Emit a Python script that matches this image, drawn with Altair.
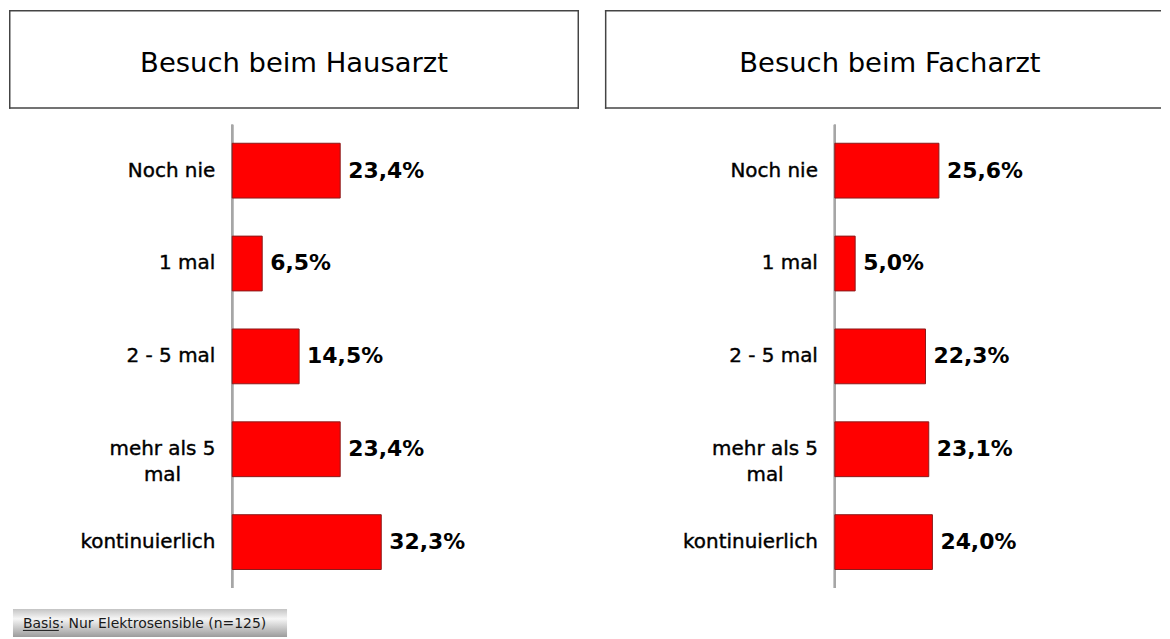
import altair as alt
import pandas as pd

# ---------------- data ----------------
categories = ["Noch nie", "1 mal", "2 - 5 mal", "mehr als 5\nmal", "kontinuierlich"]
hausarzt_values = [23.4, 6.5, 14.5, 23.4, 32.3]
facharzt_values = [25.6, 5.0, 22.3, 23.1, 24.0]
panel_titles = ["Besuch beim Hausarzt", "Besuch beim Facharzt"]
footer_key = "Basis"
footer_text = "Nur Elektrosensible (n=125)"

FONT = "DejaVu Sans"


def fmt(v):
    return f"{v:.1f}".replace(".", ",") + "%"


def title_box(text, width, right_edge=True):
    df = pd.DataFrame({"t": [text]})
    base = alt.Chart(df)
    layers = [
        base.mark_rule(color="#444444", strokeWidth=1.5).encode(
            x=alt.value(0), x2=alt.value(width), y=alt.value(0.75)),
        base.mark_rule(color="#444444", strokeWidth=1.5).encode(
            x=alt.value(0), x2=alt.value(width), y=alt.value(98.25)),
        base.mark_rule(color="#444444", strokeWidth=1.5).encode(
            x=alt.value(0.75), y=alt.value(0), y2=alt.value(99)),
    ]
    if right_edge:
        layers.append(base.mark_rule(color="#444444", strokeWidth=1.5).encode(
            x=alt.value(width - 0.75), y=alt.value(0), y2=alt.value(99)))
    layers.append(base.mark_text(font=FONT, fontSize=27.5, align="center",
                                 baseline="alphabetic", color="#000000").encode(
        x=alt.value(286), y=alt.value(62), text="t:N"))
    return alt.layer(*layers).properties(width=width, height=99)


def bar_panel(values, width, domain):
    df = pd.DataFrame({
        "cat": categories,
        "value": values,
        "label": [fmt(v) for v in values],
        "multi": ["\n" in c for c in categories],
    })
    base = alt.Chart(df)
    y = alt.Y("cat:N", sort=categories, axis=None,
              scale=alt.Scale(paddingInner=0.41, paddingOuter=0.2))
    xs = alt.Scale(domain=domain, nice=False)
    axis_line = base.mark_rule(color="#a6a6a6", strokeWidth=2).encode(
        x=alt.X("z:Q", scale=xs, axis=None)).transform_calculate(z="0")
    bars = base.mark_bar(color="#ff0000", stroke="#8b1a1a", strokeWidth=1).encode(
        x=alt.X("value:Q", scale=xs, axis=None), x2=alt.datum(0), y=y)
    vals = base.mark_text(font=FONT, fontSize=22, fontWeight="bold", align="left",
                          baseline="middle", dx=8, color="#000000").encode(
        x=alt.X("value:Q", scale=xs, axis=None), y=y, text="label:N")
    cats_single = base.transform_filter("!datum.multi").mark_text(
        font=FONT, fontSize=20, align="right", baseline="middle", dx=-17,
        color="#000000", stroke="#000000", strokeWidth=0.4).encode(
        x=alt.datum(0), y=y, text="cat:N")
    cats_multi = base.transform_filter("datum.multi").mark_text(
        font=FONT, fontSize=20, align="center", baseline="middle", dx=-70,
        lineBreak="\n", lineHeight=26, color="#000000", stroke="#000000",
        strokeWidth=0.4).encode(x=alt.datum(0), y=y, text="cat:N")
    return alt.layer(axis_line, bars, vals, cats_single, cats_multi).properties(
        width=width, height=465)


left_panel = alt.vconcat(
    title_box(panel_titles[0], 572, True),
    bar_panel(hausarzt_values, 572, [-224 / 4.63, 348 / 4.63]),
    spacing=14)

right_panel = alt.vconcat(
    title_box(panel_titles[1], 558, False),
    bar_panel(facharzt_values, 558, [-230.7 / 4.08, 327.3 / 4.08]),
    spacing=14)

panels = alt.hconcat(left_panel, right_panel, spacing=24)

# footer
fdf = pd.DataFrame({"t": [footer_key + ": " + footer_text]})
fbase = alt.Chart(fdf)
grad = alt.Gradient(
    gradient="linear",
    stops=[alt.GradientStop(offset=0, color="#c4c4c4"),
           alt.GradientStop(offset=0.35, color="#f6f6f6"),
           alt.GradientStop(offset=1, color="#9c9c9c")],
    x1=0, x2=0, y1=0, y2=1)
footer = alt.layer(
    fbase.mark_rect(fill=grad).encode(
        x=alt.value(4), x2=alt.value(279), y=alt.value(0), y2=alt.value(28)),
    fbase.mark_text(font=FONT, fontSize=14, align="left", baseline="alphabetic",
                    color="#1a1a1a").encode(
        x=alt.value(14), y=alt.value(19), text="t:N"),
    fbase.mark_rule(color="#1a1a1a", strokeWidth=1).encode(
        x=alt.value(14), x2=alt.value(50), y=alt.value(21.5)),
).properties(width=290, height=28)

chart = alt.vconcat(panels, footer, spacing=20, padding=0).configure(
    background="#ffffff", view=alt.ViewConfig(stroke="transparent", strokeWidth=0))

chart.save("out.html", embed_options={"renderer": "svg", "actions": False})
